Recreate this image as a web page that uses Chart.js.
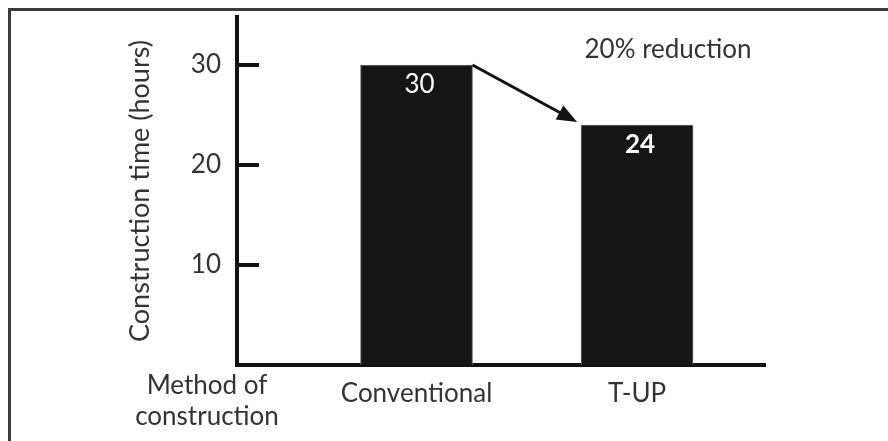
<!DOCTYPE html>
<html>
<head>
<meta charset="utf-8">
<script src="https://cdn.jsdelivr.net/npm/chart.js@4.4.0/dist/chart.umd.min.js"></script>
<style>
  html, body { margin: 0; padding: 0; background: #fff; }
</style>
</head>
<body>
<canvas id="grafico" width="888" height="441"></canvas>
<script>
// datos
const metodos = ['Conventional', 'T-UP']
const posiciones = [1, 2]
const horas = [30, 24]
const ticksY = [10, 20, 30]

const fuente = 'Lato, "Open Sans", sans-serif'
const gris = '#333'
const tam = 26

const dibujos = {
  id: 'dibujos',
  beforeDraw(chart) {
    const ctx = chart.ctx
    ctx.save()
    ctx.fillStyle = '#3c3c3c'
    ctx.fillRect(8, 8, 3, 441)
    ctx.fillRect(8, 8, 880, 3)
    ctx.restore()
  },
  afterDraw(chart) {
    const ctx = chart.ctx
    const y = chart.scales.y
    const barras = chart.getDatasetMeta(0).data
    ctx.save()

    // marcas hacia dentro del eje y
    ctx.strokeStyle = '#111'
    ctx.lineWidth = 4
    ticksY.forEach(v => {
      const py = y.getPixelForValue(v)
      ctx.beginPath()
      ctx.moveTo(y.right, py)
      ctx.lineTo(y.right + 22, py)
      ctx.stroke()
    })

    // valores dentro de las barras
    ctx.fillStyle = '#fff'
    ctx.textAlign = 'center'
    ctx.textBaseline = 'middle'
    const pesos = ['normal', 'bold']
    barras.forEach((b, i) => {
      ctx.font = pesos[i] + ' ' + tam + 'px ' + fuente
      ctx.fillText(horas[i], b.x + 3, b.y + 20)
    })

    // flecha entre las barras
    const a = barras[0], c = barras[1]
    const x1 = a.x + a.width / 2, y1 = a.y
    const x2 = c.x - c.width / 2 - 4, y2 = c.y - 3
    const ang = Math.atan2(y2 - y1, x2 - x1)
    ctx.strokeStyle = '#111'
    ctx.fillStyle = '#111'
    ctx.lineWidth = 3
    ctx.beginPath()
    ctx.moveTo(x1, y1)
    ctx.lineTo(x2 - 14 * Math.cos(ang), y2 - 14 * Math.sin(ang))
    ctx.stroke()
    ctx.beginPath()
    ctx.moveTo(x2, y2)
    ctx.lineTo(x2 - 20 * Math.cos(ang) + 8 * Math.sin(ang), y2 - 20 * Math.sin(ang) - 8 * Math.cos(ang))
    ctx.lineTo(x2 - 20 * Math.cos(ang) - 8 * Math.sin(ang), y2 - 20 * Math.sin(ang) + 8 * Math.cos(ang))
    ctx.closePath()
    ctx.fill()

    // textos sueltos
    ctx.fillStyle = gris
    ctx.font = tam + 'px ' + fuente
    ctx.fillText('20% reduction', 668, 50)
    ctx.fillText('Method of', 207, 386)
    ctx.fillText('construction', 207, 417)
    ctx.restore()
  }
}

const config = {
  type: 'bar',
  data: {
    datasets: [{
      data: posiciones.map((p, i) => ({ x: p, y: horas[i] })),
      backgroundColor: '#161616',
      borderColor: '#6a6a6a',
      borderWidth: 1,
      barThickness: 112
    }]
  },
  options: {
    responsive: false,
    devicePixelRatio: 1,
    animation: false,
    layout: { padding: { left: 120, right: 123, top: 17, bottom: 0 } },
    plugins: { legend: { display: false }, tooltip: { enabled: false } },
    scales: {
      x: {
        type: 'linear',
        offset: false,
        min: 0.186,
        max: 2.58,
        afterBuildTicks: s => { s.ticks = posiciones.map(v => ({ value: v })) },
        afterFit: s => { s.height = 76; s.paddingLeft = 0; s.paddingRight = 0 },
        grid: { display: false },
        border: { display: true, color: '#111', width: 4 },
        ticks: {
          callback: v => metodos[posiciones.indexOf(v)],
          color: gris,
          font: { family: fuente, size: tam },
          padding: 5,
          maxRotation: 0
        }
      },
      y: {
        min: 0,
        max: 34.8,
        afterBuildTicks: s => { s.ticks = ticksY.map(v => ({ value: v })) },
        afterFit: s => { s.width = 117; s.paddingTop = 0; s.paddingBottom = 0 },
        grid: { display: false },
        border: { display: true, color: '#111', width: 4 },
        ticks: {
          color: gris,
          font: { family: fuente, size: tam },
          padding: 8
        },
        title: {
          display: true,
          text: 'Construction time (hours)',
          color: gris,
          font: { family: fuente, size: 27 },
          padding: { top: 4, bottom: 0 }
        }
      }
    }
  },
  plugins: [dibujos]
}

let myChart = new Chart(document.getElementById('grafico'), config)
</script>
</body>
</html>
